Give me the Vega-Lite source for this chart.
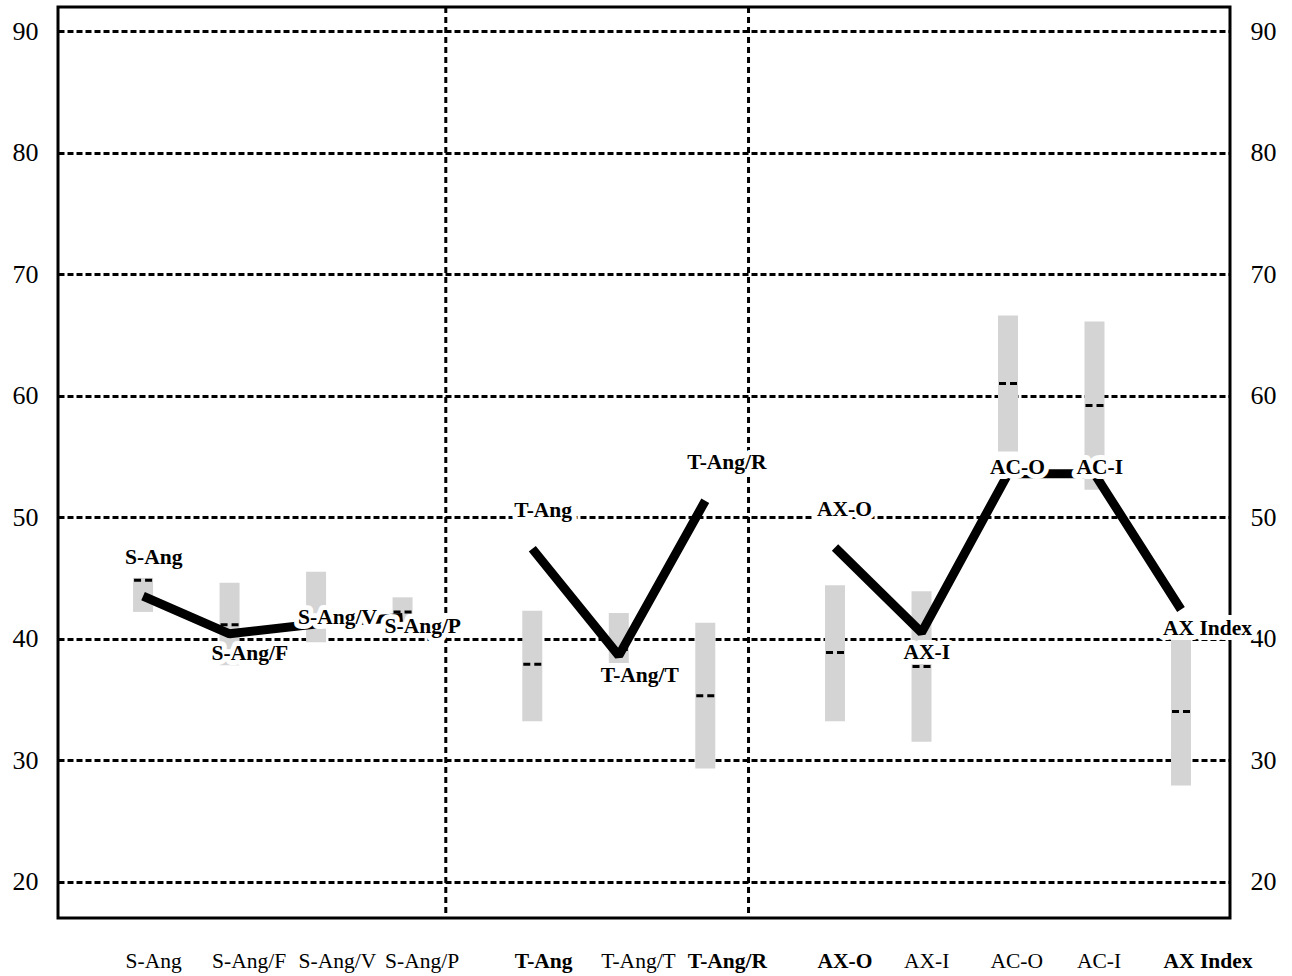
{
  "$schema": "https://vega.github.io/schema/vega-lite/v6.json",
  "width": 1172,
  "height": 911,
  "autosize": {"type": "none"},
  "padding": {"left": 58, "top": 7, "right": 62, "bottom": 58},
  "background": "white",
  "config": {
    "view": {"stroke": "black", "strokeWidth": 3},
    "font": "Liberation Serif"
  },
  "data": {
    "values": [
      {"name": "S-Ang", "group": "S", "value": 43.5, "low": 42.2, "high": 45.0, "mean": 44.8},
      {"name": "S-Ang/F", "group": "S", "value": 40.4, "low": 37.8, "high": 44.6, "mean": 41.15},
      {"name": "S-Ang/V", "group": "S", "value": 41.2, "low": 39.7, "high": 45.5, "mean": 41.9},
      {"name": "S-Ang/P", "group": "S", "value": 41.75, "low": 41.0, "high": 43.4, "mean": 42.2},
      {"name": "T-Ang", "group": "T", "value": 47.4, "low": 33.2, "high": 42.3, "mean": 37.9},
      {"name": "T-Ang/T", "group": "T", "value": 38.6, "low": 38.0, "high": 42.1, "mean": 39.1},
      {"name": "T-Ang/R", "group": "T", "value": 51.35, "low": 29.3, "high": 41.3, "mean": 35.3},
      {"name": "AX-O", "group": "A", "value": 47.5, "low": 33.2, "high": 44.4, "mean": 38.85},
      {"name": "AX-I", "group": "A", "value": 40.5, "low": 31.5, "high": 43.9, "mean": 37.7},
      {"name": "AC-O", "group": "A", "value": 53.57, "low": 55.4, "high": 66.6, "mean": 61.0},
      {"name": "AC-I", "group": "A", "value": 53.57, "low": 52.25, "high": 66.1, "mean": 59.2},
      {"name": "AX Index", "group": "A", "value": 42.4, "low": 27.9, "high": 40.5, "mean": 34.0}
    ]
  },
  "encoding": {
    "x": {
      "field": "name",
      "type": "ordinal",
      "scale": {
        "type": "point",
        "domain": ["_a", "S-Ang", "_1", "S-Ang/F", "_3", "S-Ang/V", "_5", "S-Ang/P", "_d1", "_8", "T-Ang", "_10", "T-Ang/T", "_12", "T-Ang/R", "_d2", "_15", "AX-O", "_17", "AX-I", "_19", "AC-O", "_21", "AC-I", "_23", "AX Index", "_z"],
        "padding": 0.55,
        "align": 0.879
      },
      "axis": {
        "orient": "bottom",
        "title": null,
        "domain": false,
        "ticks": false,
        "tickSize": 0,
        "grid": false,
        "labelExpr": "indexof(datum.value, '_') == 0 ? '' : datum.value",
        "labelAlign": "left",
        "labelBaseline": "top",
        "labelOffset": -18,
        "labelPadding": 32,
        "labelAngle": 0,
        "labelOverlap": false,
        "labelBound": false,
        "labelFlush": false,
        "labelFont": "Liberation Serif",
        "labelFontSize": 21.5,
        "labelColor": "black",
        "labelFontWeight": {
          "condition": {"test": "indexof(['T-Ang','T-Ang/R','AX-O','AX Index'], datum.value) >= 0", "value": "bold"},
          "value": "normal"
        }
      }
    }
  },
  "layer": [
    {
      "mark": {"type": "bar", "color": "#d4d4d4", "width": 20},
      "encoding": {
        "y": {
          "field": "low",
          "type": "quantitative",
          "scale": {"domain": [17, 92], "nice": false, "zero": false},
          "axis": {
            "orient": "left",
            "title": null,
            "values": [20, 30, 40, 50, 60, 70, 80, 90],
            "grid": true,
            "gridColor": "black",
            "gridDash": [6, 3],
            "gridWidth": 3,
            "gridOpacity": 1,
            "domain": false,
            "ticks": false,
            "tickSize": 0,
            "labelPadding": 20,
            "labelFont": "Liberation Serif",
            "labelFontSize": 26,
            "labelColor": "black"
          }
        },
        "y2": {"field": "high"}
      }
    },
    {
      "mark": {"type": "rule", "color": "black", "strokeWidth": 3, "strokeDash": [7, 4], "xOffset": -9, "x2Offset": 9},
      "encoding": {
        "x2": {"field": "name"},
        "y": {"field": "mean", "type": "quantitative", "scale": {"domain": [17, 92], "nice": false, "zero": false}, "axis": null}
      }
    },
    {
      "data": {"values": [{"name": "_d1"}, {"name": "_d2"}]},
      "mark": {"type": "rule", "color": "black", "strokeWidth": 3, "strokeDash": [6, 4]},
      "encoding": {}
    },
    {
      "mark": {"type": "line", "color": "black", "strokeWidth": 9, "strokeCap": "butt", "strokeJoin": "bevel"},
      "encoding": {
        "y": {
          "field": "value",
          "type": "quantitative",
          "scale": {"domain": [17, 92], "nice": false, "zero": false},
          "axis": {
            "orient": "right",
            "title": null,
            "values": [20, 30, 40, 50, 60, 70, 80, 90],
            "grid": false,
            "domain": false,
            "ticks": false,
            "tickSize": 0,
            "labelPadding": 20,
            "labelFont": "Liberation Serif",
            "labelFontSize": 26,
            "labelColor": "black"
          }
        },
        "detail": {"field": "group"},
        "order": {"value": null}
      }
    },
    {
      "transform": [{"filter": {"field": "name", "oneOf": ["S-Ang", "T-Ang", "T-Ang/R", "AX-O"]}}],
      "mark": {"type": "text", "align": "left", "baseline": "alphabetic", "dx": -18, "dy": -32, "font": "Liberation Serif", "fontWeight": "bold", "fontSize": 21.5, "fill": "white", "stroke": "white", "strokeWidth": 10, "strokeJoin": "round"},
      "encoding": {"y": {"field": "value", "type": "quantitative", "scale": {"domain": [17, 92], "nice": false, "zero": false}, "axis": null}, "text": {"field": "name"}}
    },
    {
      "transform": [{"filter": {"field": "name", "oneOf": ["S-Ang", "T-Ang", "T-Ang/R", "AX-O"]}}],
      "mark": {"type": "text", "align": "left", "baseline": "alphabetic", "dx": -18, "dy": -32, "font": "Liberation Serif", "fontWeight": "bold", "fontSize": 21.5, "fill": "black"},
      "encoding": {"y": {"field": "value", "type": "quantitative", "scale": {"domain": [17, 92], "nice": false, "zero": false}, "axis": null}, "text": {"field": "name"}}
    },
    {
      "transform": [{"filter": {"field": "name", "oneOf": ["S-Ang/F", "T-Ang/T", "AX-I", "AX Index"]}}],
      "mark": {"type": "text", "align": "left", "baseline": "alphabetic", "dx": -18, "dy": 26, "font": "Liberation Serif", "fontWeight": "bold", "fontSize": 21.5, "fill": "white", "stroke": "white", "strokeWidth": 10, "strokeJoin": "round"},
      "encoding": {"y": {"field": "value", "type": "quantitative", "scale": {"domain": [17, 92], "nice": false, "zero": false}, "axis": null}, "text": {"field": "name"}}
    },
    {
      "transform": [{"filter": {"field": "name", "oneOf": ["S-Ang/F", "T-Ang/T", "AX-I", "AX Index"]}}],
      "mark": {"type": "text", "align": "left", "baseline": "alphabetic", "dx": -18, "dy": 26, "font": "Liberation Serif", "fontWeight": "bold", "fontSize": 21.5, "fill": "black"},
      "encoding": {"y": {"field": "value", "type": "quantitative", "scale": {"domain": [17, 92], "nice": false, "zero": false}, "axis": null}, "text": {"field": "name"}}
    },
    {
      "transform": [{"filter": {"field": "name", "oneOf": ["S-Ang/P"]}}],
      "mark": {"type": "text", "align": "left", "baseline": "alphabetic", "dx": -18, "dy": 16, "font": "Liberation Serif", "fontWeight": "bold", "fontSize": 21.5, "fill": "white", "stroke": "white", "strokeWidth": 10, "strokeJoin": "round"},
      "encoding": {"y": {"field": "value", "type": "quantitative", "scale": {"domain": [17, 92], "nice": false, "zero": false}, "axis": null}, "text": {"field": "name"}}
    },
    {
      "transform": [{"filter": {"field": "name", "oneOf": ["S-Ang/P"]}}],
      "mark": {"type": "text", "align": "left", "baseline": "alphabetic", "dx": -18, "dy": 16, "font": "Liberation Serif", "fontWeight": "bold", "fontSize": 21.5, "fill": "black"},
      "encoding": {"y": {"field": "value", "type": "quantitative", "scale": {"domain": [17, 92], "nice": false, "zero": false}, "axis": null}, "text": {"field": "name"}}
    },
    {
      "transform": [{"filter": {"field": "name", "oneOf": ["S-Ang/V", "AC-O", "AC-I"]}}],
      "mark": {"type": "text", "align": "left", "baseline": "alphabetic", "dx": -18, "dy": 0, "font": "Liberation Serif", "fontWeight": "bold", "fontSize": 21.5, "fill": "white", "stroke": "white", "strokeWidth": 10, "strokeJoin": "round"},
      "encoding": {"y": {"field": "value", "type": "quantitative", "scale": {"domain": [17, 92], "nice": false, "zero": false}, "axis": null}, "text": {"field": "name"}}
    },
    {
      "transform": [{"filter": {"field": "name", "oneOf": ["S-Ang/V", "AC-O", "AC-I"]}}],
      "mark": {"type": "text", "align": "left", "baseline": "alphabetic", "dx": -18, "dy": 0, "font": "Liberation Serif", "fontWeight": "bold", "fontSize": 21.5, "fill": "black"},
      "encoding": {"y": {"field": "value", "type": "quantitative", "scale": {"domain": [17, 92], "nice": false, "zero": false}, "axis": null}, "text": {"field": "name"}}
    }
  ],
  "resolve": {"axis": {"y": "independent"}}
}
